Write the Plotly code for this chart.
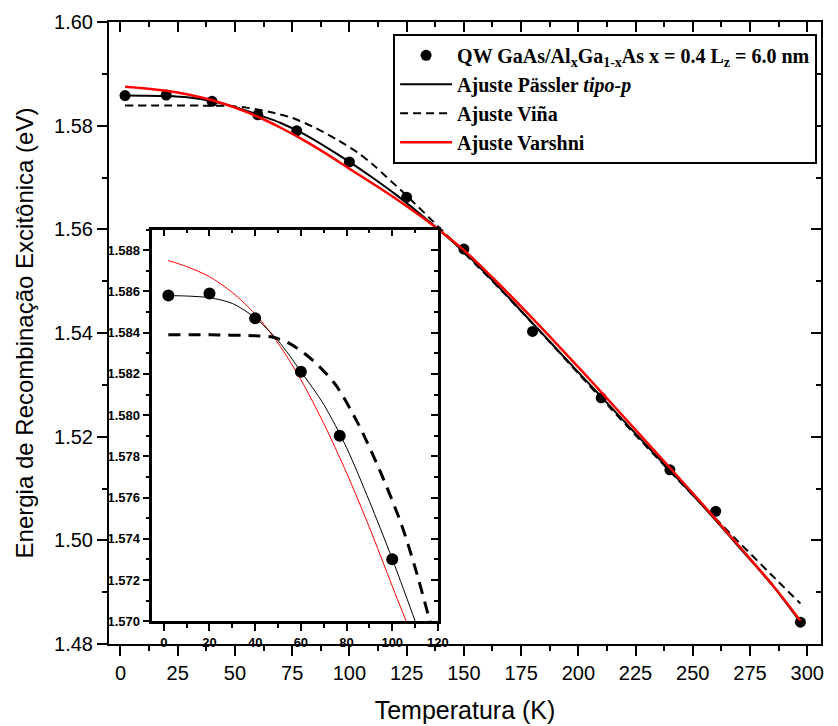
import plotly.graph_objects as go

# ---- data ----
T_data = [2, 20, 40, 60, 77, 100, 125, 150, 180, 210, 240, 260, 297]
E_data = [1.5858, 1.5859, 1.5847, 1.5821, 1.5790, 1.5730, 1.5662, 1.5562,
          1.5403, 1.5275, 1.5136, 1.5056, 1.4842]

T_passler = [2, 10, 20, 30, 40, 50, 60, 70, 80, 90, 100, 110, 120, 130, 140,
             150, 165, 180, 195, 210, 225, 240, 255, 270, 285, 297]
E_passler = [1.5858, 1.58578, 1.58570, 1.58542, 1.58472, 1.58362, 1.58212,
             1.58052, 1.57842, 1.57582, 1.57302, 1.5700, 1.5668, 1.5633,
             1.5596, 1.5557, 1.5490, 1.5419, 1.5348, 1.5277, 1.5206, 1.5135,
             1.5063, 1.4988, 1.4912, 1.4842]

T_vina = [2, 20, 40, 47, 55, 65, 75, 85, 95, 104, 110, 116, 125, 135, 145,
          155, 166, 187, 200, 214, 228, 242, 256, 270, 284, 297]
E_vina = [1.5839, 1.5839, 1.58385, 1.5838, 1.58348, 1.58268, 1.58150,
          1.57960, 1.57720, 1.57470, 1.5726, 1.5702, 1.5665, 1.5622, 1.5578,
          1.5533, 1.5484, 1.5385, 1.5322, 1.5255, 1.5189, 1.5124, 1.5060,
          1.4997, 1.4935, 1.4878]

T_varshni = [2, 10, 20, 30, 40, 50, 60, 70, 80, 90, 100, 110, 120, 130, 140,
             150, 165, 180, 195, 210, 225, 240, 255, 270, 285, 297]
E_varshni = [1.5875, 1.58721, 1.58672, 1.58595, 1.58490, 1.58350, 1.58172,
             1.57960, 1.57720, 1.57455, 1.5717, 1.5689, 1.5660, 1.5629,
             1.5596, 1.5560, 1.5496, 1.5428, 1.5358, 1.5286, 1.5213, 1.5140,
             1.5066, 1.4990, 1.4913, 1.4845]

leg_data = "QW GaAs/Al<sub>x</sub>Ga<sub>1-x</sub>As x = 0.4 L<sub>z</sub> = 6.0 nm"
leg_pas = "Ajuste Pässler <i>tipo-p</i>"
leg_vina = "Ajuste Viña"
leg_var = "Ajuste Varshni"

x_main_ticks = list(range(0, 301, 25))
x_inset_ticks = list(range(0, 121, 20))

fig = go.Figure()

# ---- main plot ----
fig.add_trace(go.Scatter(x=T_data, y=E_data, mode="markers", name=leg_data,
                         marker=dict(color="black", size=11)))
fig.add_trace(go.Scatter(x=T_passler, y=E_passler, mode="lines", name=leg_pas,
                         line=dict(color="black", width=2, shape="spline", smoothing=0.8)))
fig.add_trace(go.Scatter(x=T_vina, y=E_vina, mode="lines", name=leg_vina,
                         line=dict(color="black", width=2, dash="8px,5px",
                                   shape="spline", smoothing=0.8)))
fig.add_trace(go.Scatter(x=T_varshni, y=E_varshni, mode="lines", name=leg_var,
                         line=dict(color="red", width=2.5, shape="spline", smoothing=0.8)))

# ---- inset ----
fig.add_trace(go.Scatter(x=T_varshni, y=E_varshni, mode="lines", showlegend=False,
                         xaxis="x2", yaxis="y2",
                         line=dict(color="red", width=1, shape="spline", smoothing=0.8)))
fig.add_trace(go.Scatter(x=T_passler, y=E_passler, mode="lines", showlegend=False,
                         xaxis="x2", yaxis="y2",
                         line=dict(color="black", width=1, shape="spline", smoothing=0.8)))
fig.add_trace(go.Scatter(x=T_vina, y=E_vina, mode="lines", showlegend=False,
                         xaxis="x2", yaxis="y2",
                         line=dict(color="black", width=3, dash="12px,8px",
                                   shape="spline", smoothing=0.8)))
fig.add_trace(go.Scatter(x=T_data, y=E_data, mode="markers", showlegend=False,
                         xaxis="x2", yaxis="y2",
                         marker=dict(color="black", size=12)))

# dummy traces for mirrored (inward-tick) axes
fig.add_trace(go.Scatter(x=[None], y=[None], xaxis="x3", yaxis="y3",
                         showlegend=False, hoverinfo="skip"))
fig.add_trace(go.Scatter(x=[None], y=[None], xaxis="x4", yaxis="y4",
                         showlegend=False, hoverinfo="skip"))

main_font = dict(family="Liberation Sans, Arial", size=20, color="black")
inset_font = dict(family="Liberation Sans, Arial", size=13, color="black", weight="bold")

xr_main = [-5, 306]
yr_main = [1.48, 1.60]
xr_in = [-5, 120]
yr_in = [1.570, 1.589]

inset_dom_x = [0.0609, 0.4620]
inset_dom_y = [0.0367, 0.6661]

fig.update_layout(
    width=838, height=726,
    margin=dict(l=109, r=6, t=22, b=78),
    paper_bgcolor="white", plot_bgcolor="white",
    showlegend=True,
    legend=dict(x=0.9945, y=0.981, xanchor="right", yanchor="top",
                bgcolor="white", bordercolor="black", borderwidth=2,
                itemwidth=52,
                font=dict(family="Liberation Serif, Times New Roman", size=20,
                          color="black", weight="bold")),
    xaxis=dict(domain=[0, 1], anchor="y", range=xr_main, tickvals=x_main_ticks,
               ticks="outside", ticklen=10, tickwidth=2, tickcolor="black",
               showline=True, linewidth=2, linecolor="black",
               showgrid=False, zeroline=False, tickfont=main_font,
               minor=dict(dtick=12.5, tick0=0, ticks="outside", ticklen=5,
                          tickwidth=2, tickcolor="black", showgrid=False),
               title=dict(text="Temperatura (K)", standoff=18,
                          font=dict(family="Liberation Sans, Arial", size=25,
                                    color="black"))),
    yaxis=dict(domain=[0, 1], anchor="x", range=yr_main, dtick=0.02, tick0=1.48,
               tickformat=".2f",
               ticks="outside", ticklen=10, tickwidth=2, tickcolor="black",
               showline=True, linewidth=2, linecolor="black",
               showgrid=False, zeroline=False, tickfont=main_font,
               minor=dict(dtick=0.01, tick0=1.48, ticks="outside", ticklen=5,
                          tickwidth=2, tickcolor="black", showgrid=False),
               title=dict(text="Energia de Recombinação Excitônica (eV)", standoff=14,
                          font=dict(family="Liberation Sans, Arial", size=24,
                                    color="black"))),
    xaxis3=dict(overlaying="x", side="top", anchor="y", range=xr_main,
                tickvals=x_main_ticks, showticklabels=False,
                ticks="inside", ticklen=10, tickwidth=2, tickcolor="black",
                showline=True, linewidth=2, linecolor="black",
                showgrid=False, zeroline=False,
                minor=dict(dtick=12.5, tick0=0, ticks="inside", ticklen=5,
                           tickwidth=2, tickcolor="black", showgrid=False)),
    yaxis3=dict(overlaying="y", side="right", anchor="x", range=yr_main,
                dtick=0.02, tick0=1.48, showticklabels=False,
                ticks="inside", ticklen=10, tickwidth=2, tickcolor="black",
                showline=True, linewidth=2, linecolor="black",
                showgrid=False, zeroline=False,
                minor=dict(dtick=0.01, tick0=1.48, ticks="inside", ticklen=5,
                           tickwidth=2, tickcolor="black", showgrid=False)),
    xaxis2=dict(domain=inset_dom_x, anchor="y2", range=xr_in, tickvals=x_inset_ticks,
                ticks="outside", ticklen=7, tickwidth=2, tickcolor="black",
                showline=True, linewidth=2.5, linecolor="black",
                showgrid=False, zeroline=False, tickfont=inset_font,
                minor=dict(dtick=10, tick0=0, ticks="outside", ticklen=4,
                           tickwidth=2, tickcolor="black", showgrid=False)),
    yaxis2=dict(domain=inset_dom_y, anchor="x2", range=yr_in, dtick=0.002, tick0=1.570,
                tickformat=".3f",
                ticks="outside", ticklen=7, tickwidth=2, tickcolor="black",
                showline=True, linewidth=2.5, linecolor="black",
                showgrid=False, zeroline=False, tickfont=inset_font,
                minor=dict(dtick=0.001, tick0=1.570, ticks="outside", ticklen=4,
                           tickwidth=2, tickcolor="black", showgrid=False)),
    xaxis4=dict(overlaying="x2", side="top", anchor="y2", range=xr_in,
                tickvals=x_inset_ticks, showticklabels=False,
                ticks="inside", ticklen=7, tickwidth=2, tickcolor="black",
                showline=True, linewidth=2.5, linecolor="black",
                showgrid=False, zeroline=False,
                minor=dict(dtick=10, tick0=0, ticks="inside", ticklen=4,
                           tickwidth=2, tickcolor="black", showgrid=False)),
    yaxis4=dict(overlaying="y2", side="right", anchor="x2", range=yr_in,
                dtick=0.002, tick0=1.570, showticklabels=False,
                ticks="inside", ticklen=7, tickwidth=2, tickcolor="black",
                showline=True, linewidth=2.5, linecolor="black",
                showgrid=False, zeroline=False,
                minor=dict(dtick=0.001, tick0=1.570, ticks="inside", ticklen=4,
                           tickwidth=2, tickcolor="black", showgrid=False)),
)

fig.write_html("out.html")
